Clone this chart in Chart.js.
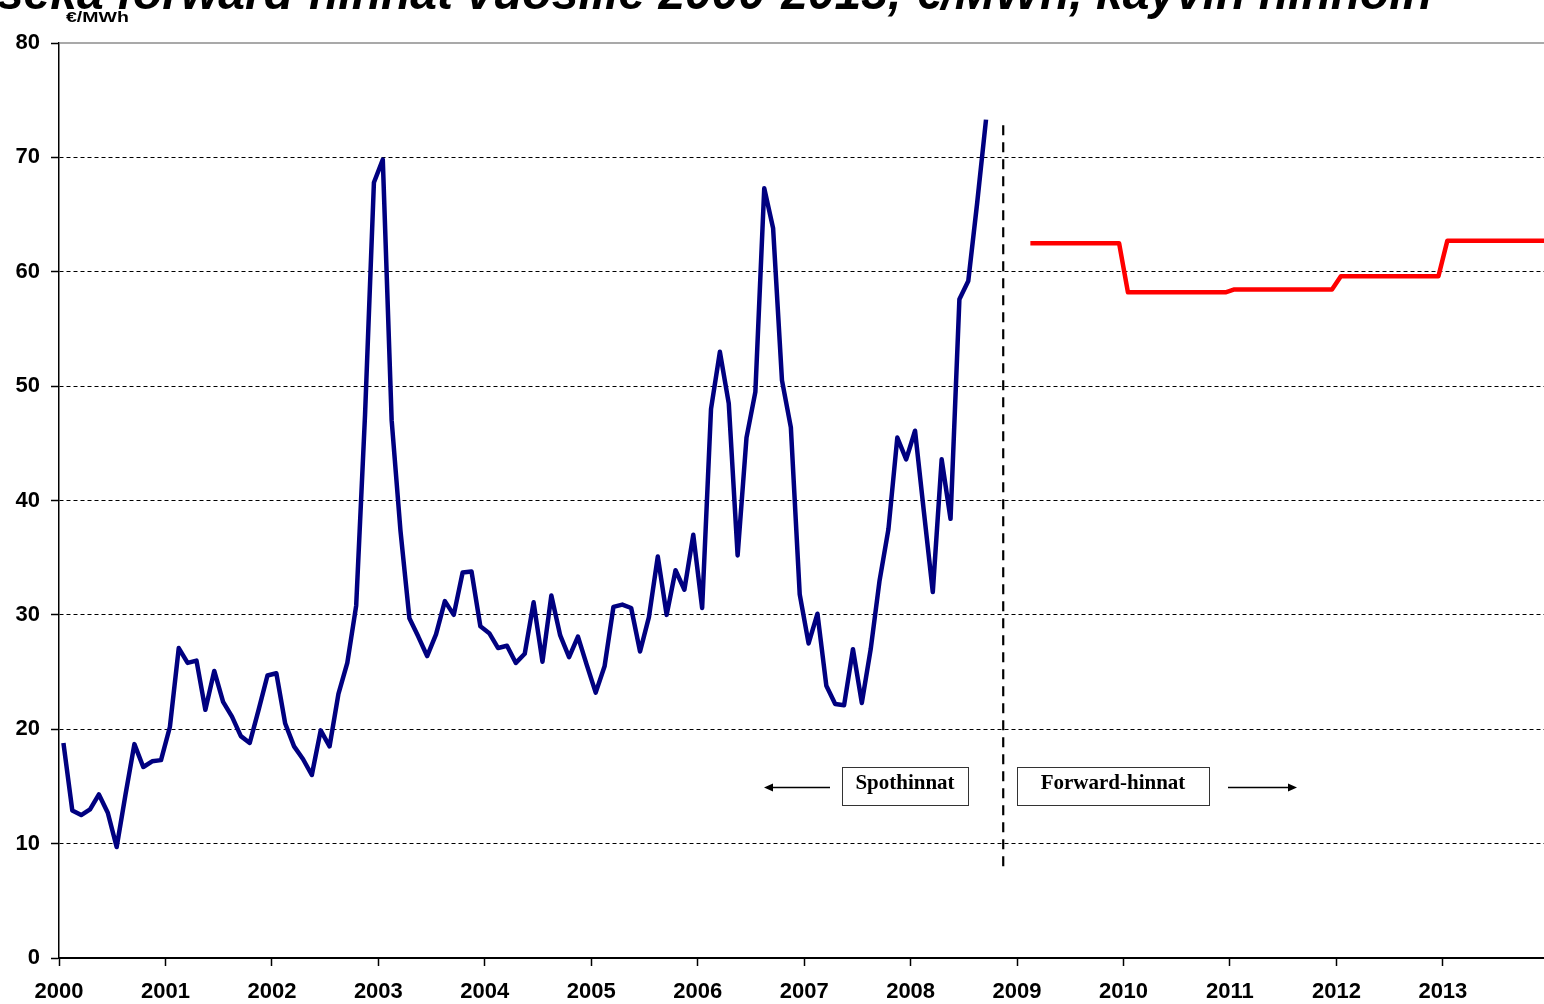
<!DOCTYPE html>
<html>
<head>
<meta charset="utf-8">
<script src="https://cdn.jsdelivr.net/npm/chart.js@4.4.1/dist/chart.umd.min.js"></script>
<style>
  html, body { margin: 0; padding: 0; background: #fff; overflow: hidden; }
  #wrap { width: 1544px; height: 1004px; }
</style>
</head>
<body>
<div id="wrap"><canvas id="chart" width="1544" height="1004"></canvas></div>
<script>
// monthly spot prices, Jan 2000 - Sep 2008, €/MWh
const spotFirstYear = 2000;
const spotPrices = [
  18.8, 12.9, 12.5, 13.0, 14.3, 12.7, 9.7, 14.3, 18.7, 16.7, 17.2, 17.3,   // 2000
  20.2, 27.1, 25.8, 26.0, 21.7, 25.1, 22.4, 21.1, 19.4, 18.8, 21.7, 24.7,  // 2001
  24.9, 20.5, 18.5, 17.4, 16.0, 19.9, 18.5, 23.1, 25.8, 30.8, 47.5, 67.8,  // 2002
  69.8, 47.0, 37.3, 29.7, 28.1, 26.4, 28.3, 31.2, 30.0, 33.7, 33.8, 29.0,  // 2003
  28.4, 27.1, 27.3, 25.8, 26.6, 31.1, 25.9, 31.7, 28.2, 26.3, 28.1, 25.6,  // 2004
  23.2, 25.5, 30.7, 30.9, 30.6, 26.8, 29.8, 35.1, 30.0, 33.9, 32.2, 37.0,  // 2005
  30.6, 48.0, 53.0, 48.5, 35.2, 45.5, 49.5, 67.3, 63.8, 50.5, 46.4, 31.8,  // 2006
  27.5, 30.1, 23.8, 22.2, 22.1, 27.0, 22.3, 27.0, 33.0, 37.5, 45.5, 43.6,  // 2007
  46.1, 39.0, 32.0, 43.6, 38.4, 57.6, 59.2, 66.0, 73.3                      // 2008
];

// yearly forward prices, quoted monthly from Feb 2009
const forwardYears = [2009, 2010, 2011, 2012, 2013];
const forwardPrices = [62.5, 58.2, 58.45, 59.6, 62.7];
const forwardFirstMonth = 2;

const yearTicks = [2000, 2001, 2002, 2003, 2004, 2005, 2006, 2007, 2008, 2009, 2010, 2011, 2012, 2013];
const priceTicks = [0, 10, 20, 30, 40, 50, 60, 70, 80];

// spot / forward boundary line
const boundaryX = [2008.87, 2008.87];
const boundaryY = [72.8, 7.7];

const titleText = 'Sähkön spothinnat sekä forward-hinnat vuosille 2000-2013, €/MWh, käyvin hinnoin';
const unitText = '€/MWh';
const spotLabel = 'Spothinnat';
const forwardLabel = 'Forward-hinnat';

const spotData = spotPrices.map((v, i) => ({ x: spotFirstYear + (i + 0.5) / 12, y: v }));
const forwardData = [];
forwardYears.forEach((yr, i) => {
  const m0 = i === 0 ? forwardFirstMonth : 1;
  for (let m = m0; m <= 12; m++) forwardData.push({ x: yr + (m - 0.5) / 12, y: forwardPrices[i] });
});
const boundaryData = boundaryX.map((x, i) => ({ x, y: boundaryY[i] }));

const decorations = {
  id: 'decorations',
  beforeDatasetsDraw(chart) {
    const { ctx, chartArea, scales } = chart;
    const y80 = scales.y.getPixelForValue(80);
    ctx.save();
    ctx.strokeStyle = '#8c8c8c';
    ctx.lineWidth = 1.5;
    ctx.beginPath();
    ctx.moveTo(chartArea.left + 1, y80);
    ctx.lineTo(chartArea.right, y80);
    ctx.stroke();
    ctx.restore();
  },
  afterDraw(chart) {
    const { ctx } = chart;
    ctx.save();
    ctx.fillStyle = '#000';

    // title, its top cut off by the picture edge
    ctx.font = 'italic bold 48px "Liberation Sans", Arial, sans-serif';
    ctx.textAlign = 'right';
    ctx.textBaseline = 'alphabetic';
    ctx.fillText(titleText, 1432, 9);

    // unit
    ctx.save();
    ctx.translate(66, 22);
    ctx.scale(1.3, 1);
    ctx.font = 'bold 15px "Liberation Sans", Arial, sans-serif';
    ctx.textAlign = 'left';
    ctx.fillText(unitText, 0, 0);
    ctx.restore();

    // labelled boxes
    const boxes = [
      { text: spotLabel, x: 842, w: 126 },
      { text: forwardLabel, x: 1017, w: 192 }
    ];
    ctx.font = 'bold 21px "Liberation Serif", "Times New Roman", serif';
    ctx.textAlign = 'center';
    ctx.textBaseline = 'middle';
    boxes.forEach(b => {
      ctx.fillStyle = '#fff';
      ctx.fillRect(b.x, 767, b.w, 38);
      ctx.strokeStyle = '#333';
      ctx.lineWidth = 1;
      ctx.strokeRect(b.x + 0.5, 767.5, b.w, 38);
      ctx.fillStyle = '#000';
      ctx.fillText(b.text, b.x + b.w / 2, 784);
    });

    // arrows
    const arrow = (x1, x2, y) => {
      const dir = Math.sign(x2 - x1);
      ctx.strokeStyle = '#000';
      ctx.lineWidth = 1.5;
      ctx.beginPath();
      ctx.moveTo(x1, y);
      ctx.lineTo(x2 - dir * 6, y);
      ctx.stroke();
      ctx.beginPath();
      ctx.moveTo(x2, y);
      ctx.lineTo(x2 - dir * 9, y - 4);
      ctx.lineTo(x2 - dir * 9, y + 4);
      ctx.closePath();
      ctx.fill();
    };
    arrow(830, 764, 787.5);
    arrow(1228, 1297, 787.5);
    ctx.restore();
  }
};

new Chart(document.getElementById('chart'), {
  type: 'line',
  plugins: [decorations],
  data: {
    datasets: [
      {
        label: 'Spothinnat',
        data: spotData,
        borderColor: '#000080',
        borderWidth: 4.5,
        pointRadius: 0,
        tension: 0,
        borderJoinStyle: 'round'
      },
      {
        label: 'Forward-hinnat',
        data: forwardData,
        borderColor: '#ff0000',
        borderWidth: 4.5,
        pointRadius: 0,
        tension: 0,
        borderJoinStyle: 'round'
      },
      {
        label: 'raja',
        data: boundaryData,
        borderColor: '#000',
        borderWidth: 2.2,
        borderDash: [10, 7],
        pointRadius: 0
      }
    ]
  },
  options: {
    responsive: false,
    animation: false,
    events: [],
    layout: { padding: { top: 43, left: 0, right: 0, bottom: 0 } },
    plugins: {
      legend: { display: false },
      tooltip: { enabled: false },
      title: { display: false }
    },
    scales: {
      x: {
        type: 'linear',
        min: 2000,
        max: 2013.95,
        afterFit: (s) => { s.height = 46; },
        afterBuildTicks: (s) => { s.ticks = yearTicks.map(v => ({ value: v })); },
        ticks: {
          includeBounds: false,
          autoSkip: false,
          maxRotation: 0,
          padding: 13,
          color: '#000',
          font: { family: '"Liberation Sans", Arial, sans-serif', size: 22, weight: 'bold' },
          callback: (v) => String(v)
        },
        grid: {
          drawOnChartArea: false,
          drawTicks: true,
          tickLength: 8,
          tickColor: '#000',
          tickWidth: 1.5
        },
        border: { display: true, color: '#000', width: 2 }
      },
      y: {
        min: 0,
        max: 80,
        afterFit: (s) => { s.width = 59; },
        afterBuildTicks: (s) => { s.ticks = priceTicks.map(v => ({ value: v })); },
        ticks: {
          padding: 11,
          color: '#000',
          font: { family: '"Liberation Sans", Arial, sans-serif', size: 22, weight: 'bold' },
          callback: (v) => String(v)
        },
        grid: {
          color: (c) => (c.tick && (c.tick.value === 0 || c.tick.value === 80)) ? 'rgba(0,0,0,0)' : '#000',
          lineWidth: 1,
          drawTicks: true,
          tickLength: 8,
          tickColor: '#000',
          tickWidth: 1.5,
          tickBorderDash: []
        },
        border: { display: true, color: '#000', width: 1.5, dash: [4, 3] }
      }
    }
  }
});
</script>
</body>
</html>
